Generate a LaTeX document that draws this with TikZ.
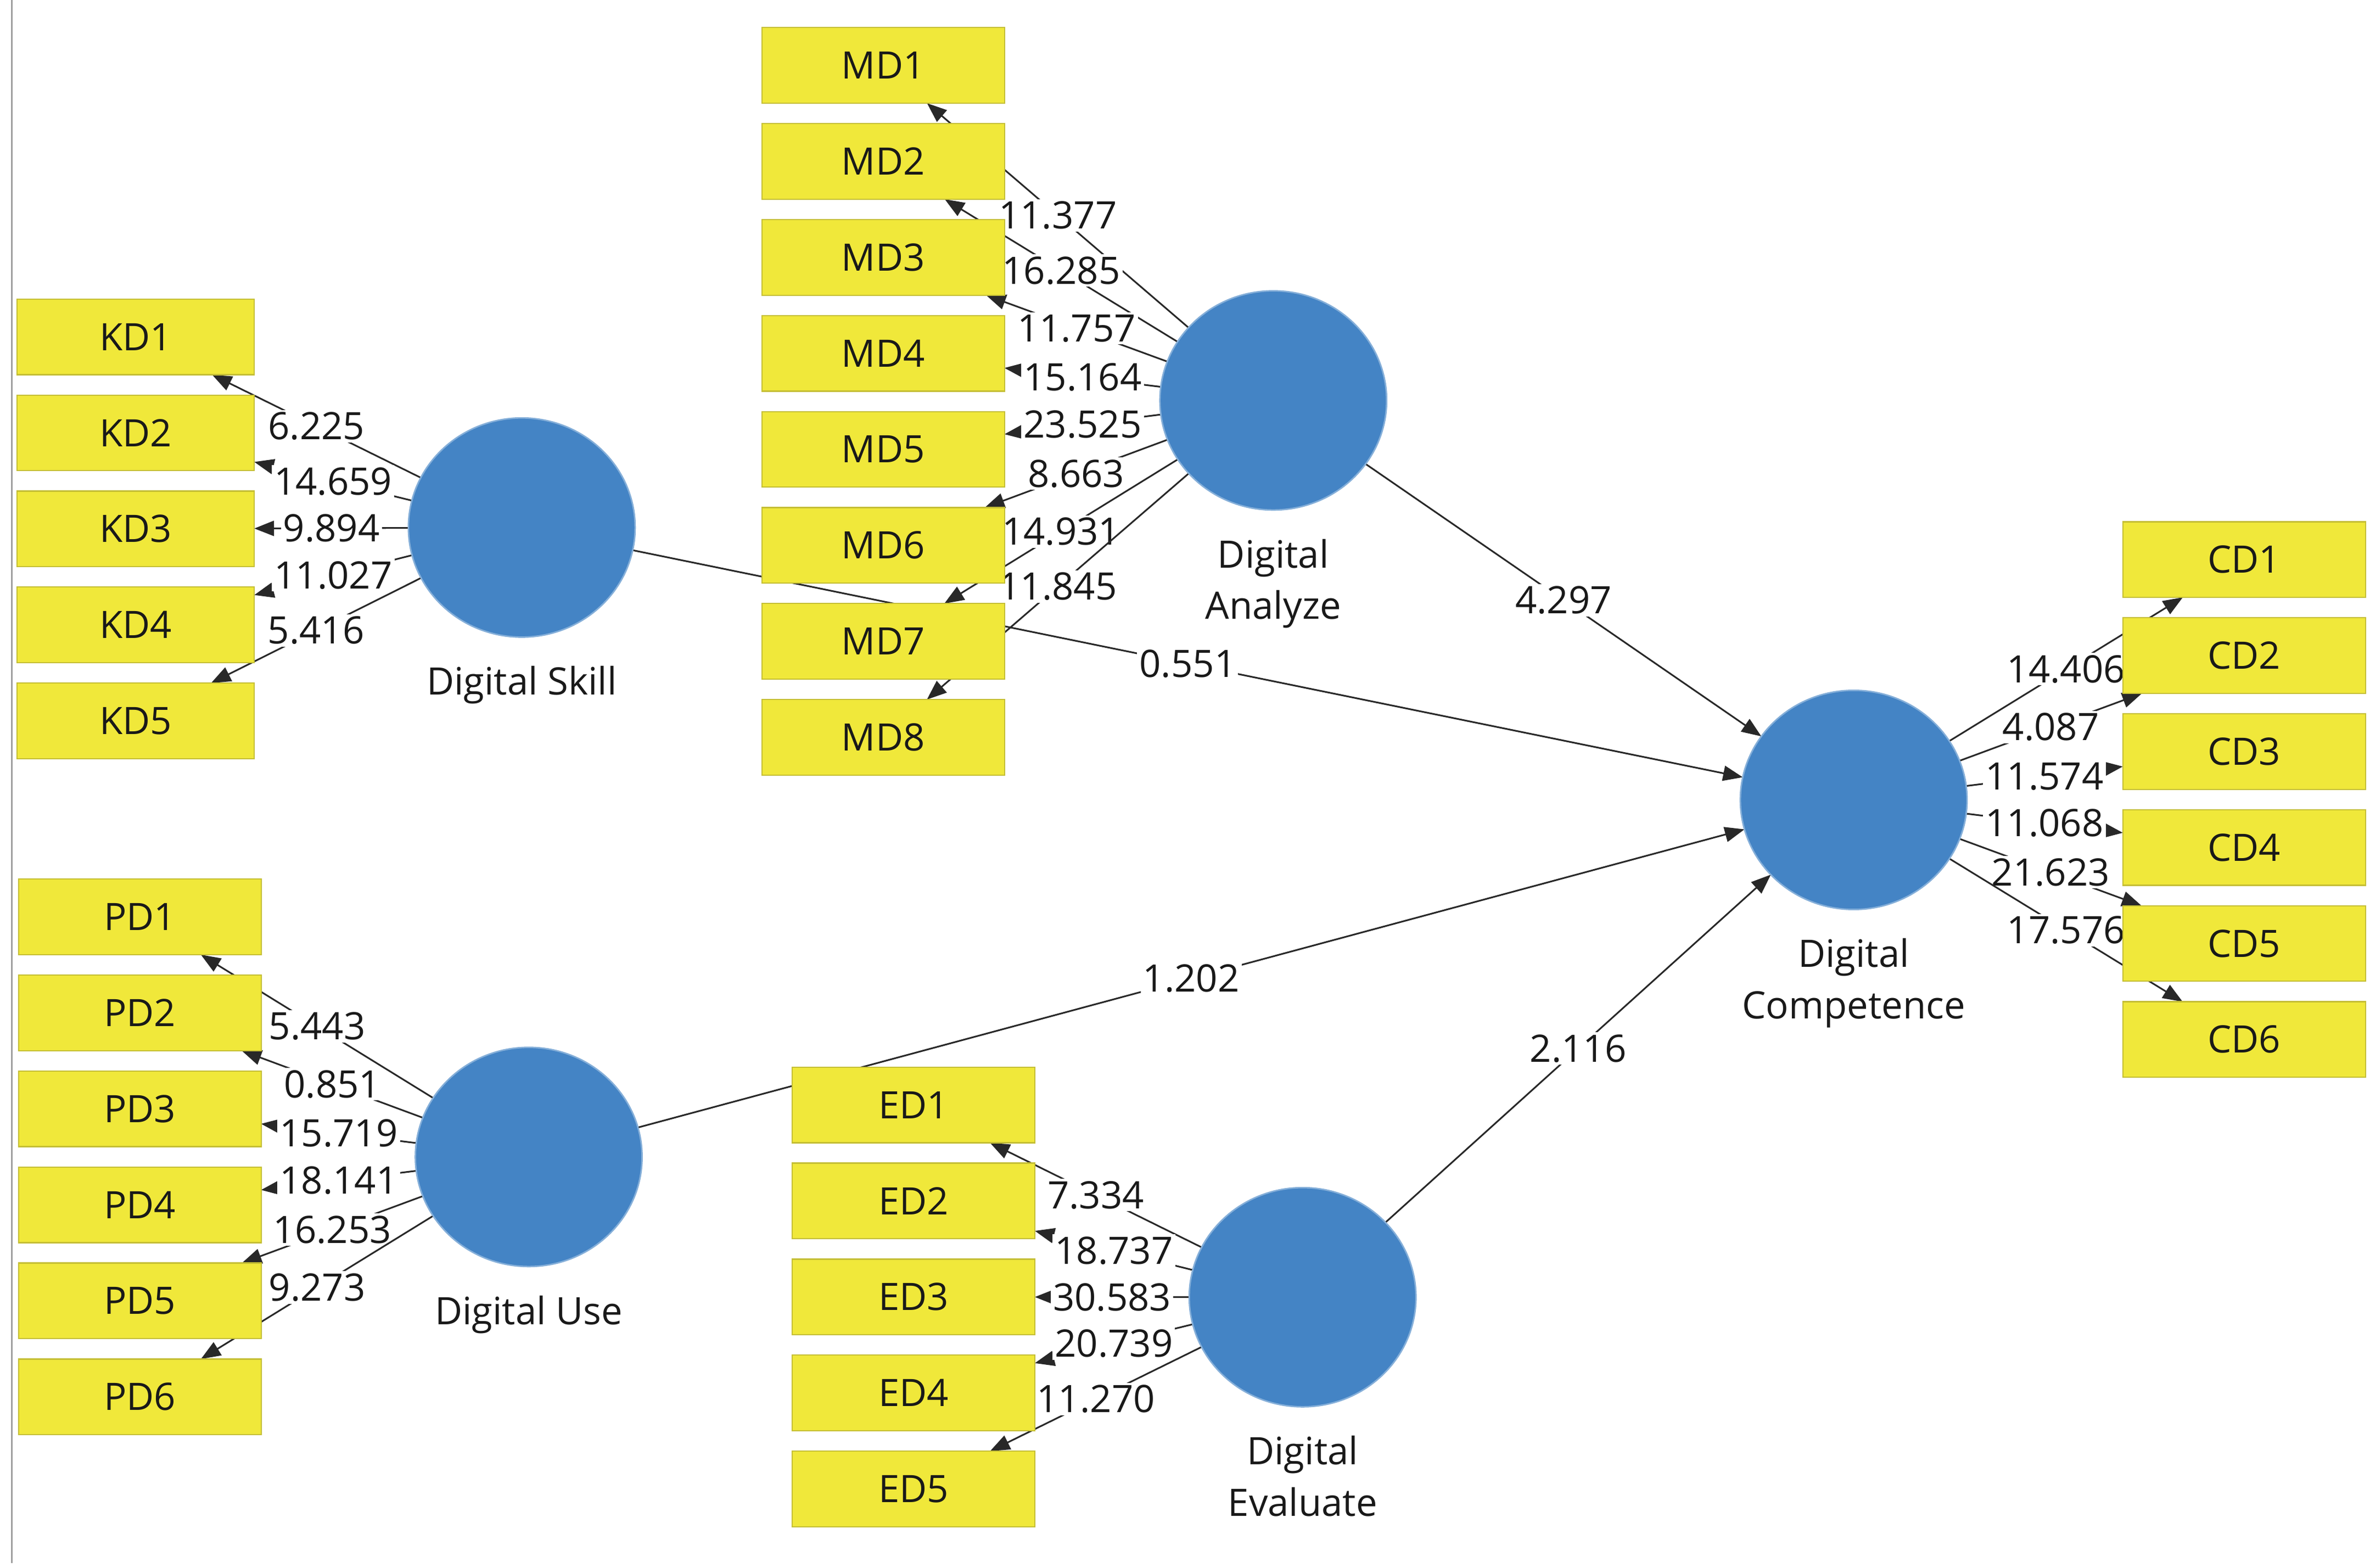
\documentclass[tikz,border=0pt]{standalone}
\usepackage{fontspec}
\setmainfont{Open Sans}
\usetikzlibrary{positioning,shapes.geometric,arrows.meta,backgrounds}
\definecolor{itemfill}{RGB}{240,232,58}
\definecolor{itemedge}{RGB}{196,190,52}
\definecolor{lvfill}{RGB}{68,132,197}
\definecolor{pathcol}{RGB}{40,40,40}
\definecolor{framecol}{RGB}{160,160,160}

\begin{document}
\begin{tikzpicture}[
		x=1pt, y=-1pt,
		node distance=13.5pt,
		item/.style={rectangle, fill=itemfill, draw=itemedge, line width=0.8pt, minimum width=160.5pt, minimum height=50pt, inner sep=0pt, outer sep=0pt, text=black!90, font=\fontsize{25}{30}\selectfont},
		kitem/.style={item, minimum width=157pt},
		latent/.style={ellipse, fill=lvfill, draw=lvfill!65!white, line width=1pt, minimum width=150pt, minimum height=145pt, inner sep=0pt, outer sep=0pt},
		lvname/.style={below=19pt, inner sep=0pt, align=center, text=black!90, font=\fontsize{25}{34}\selectfont},
		load/.style={draw=pathcol, line width=1.1pt, -{Triangle[length=13pt,width=10pt]}},
		wt/.style={midway, fill=white, inner sep=1.5pt, text=black!90, font=\fontsize{25}{30}\selectfont},
	]
		\useasboundingbox (0,0) rectangle (1568,1037.3);
		\draw[framecol, line width=1.2pt] (7.7,0) -- (7.7,1034);

		% latent variables
		\node (ds) at (345.2,349) [latent] {};
		\node (da) at (842.4,264.9) [latent] {};
		\node (dc) at (1226.4,529.2) [latent] {};
		\node (du) at (349.8,765.4) [latent] {};
		\node (de) at (861.8,858.2) [latent] {};
		\node (dslab) at (ds.south) [lvname] {Digital Skill};
		\node (dalab) at (da.south) [lvname] {Digital\\Analyze};
		\node (dclab) at (dc.south) [lvname] {Digital\\Competence};
		\node (dulab) at (du.south) [lvname] {Digital Use};
		\node (delab) at (de.south) [lvname] {Digital\\Evaluate};

		% indicators
		\node (kd1) at (89.75,222.9) [kitem] {KD1};
		\node (kd2) [kitem, below=of kd1] {KD2};
		\node (kd3) [kitem, below=of kd2] {KD3};
		\node (kd4) [kitem, below=of kd3] {KD4};
		\node (kd5) [kitem, below=of kd4] {KD5};

		\node (md1) at (584.3,43.3) [item] {MD1};
		\node (md2) [item, below=of md1] {MD2};
		\node (md3) [item, below=of md2] {MD3};
		\node (md4) [item, below=of md3] {MD4};
		\node (md5) [item, below=of md4] {MD5};
		\node (md6) [item, below=of md5] {MD6};
		\node (md7) [item, below=of md6] {MD7};
		\node (md8) [item, below=of md7] {MD8};

		\node (cd1) at (1484.7,370.2) [item] {CD1};
		\node (cd2) [item, below=of cd1] {CD2};
		\node (cd3) [item, below=of cd2] {CD3};
		\node (cd4) [item, below=of cd3] {CD4};
		\node (cd5) [item, below=of cd4] {CD5};
		\node (cd6) [item, below=of cd5] {CD6};

		\node (pd1) at (92.5,606.6) [item] {PD1};
		\node (pd2) [item, below=of pd1] {PD2};
		\node (pd3) [item, below=of pd2] {PD3};
		\node (pd4) [item, below=of pd3] {PD4};
		\node (pd5) [item, below=of pd4] {PD5};
		\node (pd6) [item, below=of pd5] {PD6};

		\node (ed1) at (604.4,731) [item] {ED1};
		\node (ed2) [item, below=of ed1] {ED2};
		\node (ed3) [item, below=of ed2] {ED3};
		\node (ed4) [item, below=of ed3] {ED4};
		\node (ed5) [item, below=of ed4] {ED5};

		% all paths go under the boxes
		\begin{scope}[on background layer]
		\draw[load] (ds) -- (dc) node[wt]{0.551};
		\draw[load] (da) -- (dc) node[wt]{4.297};
		\draw[load] (du) -- (dc) node[wt]{1.202};
		\draw[load] (de) -- (dc) node[wt]{2.116};

		\draw[load] (ds) -- (kd1) node[wt]{6.225};
		\draw[load] (ds) -- (kd2) node[wt]{14.659};
		\draw[load] (ds) -- (kd3) node[wt]{9.894};
		\draw[load] (ds) -- (kd4) node[wt]{11.027};
		\draw[load] (ds) -- (kd5) node[wt]{5.416};

		\draw[load] (da) -- (md1) node[wt]{11.377};
		\draw[load] (da) -- (md2) node[wt]{16.285};
		\draw[load] (da) -- (md3) node[wt]{11.757};
		\draw[load] (da) -- (md4) node[wt]{15.164};
		\draw[load] (da) -- (md5) node[wt]{23.525};
		\draw[load] (da) -- (md6) node[wt]{8.663};
		\draw[load] (da) -- (md7) node[wt]{14.931};
		\draw[load] (da) -- (md8) node[wt]{11.845};

		\draw[load] (dc) -- (cd1) node[wt]{14.406};
		\draw[load] (dc) -- (cd2) node[wt]{4.087};
		\draw[load] (dc) -- (cd3) node[wt]{11.574};
		\draw[load] (dc) -- (cd4) node[wt]{11.068};
		\draw[load] (dc) -- (cd5) node[wt]{21.623};
		\draw[load] (dc) -- (cd6) node[wt]{17.576};

		\draw[load] (du) -- (pd1) node[wt]{5.443};
		\draw[load] (du) -- (pd2) node[wt]{0.851};
		\draw[load] (du) -- (pd3) node[wt]{15.719};
		\draw[load] (du) -- (pd4) node[wt]{18.141};
		\draw[load] (du) -- (pd5) node[wt]{16.253};
		\draw[load] (du) -- (pd6) node[wt]{9.273};

		\draw[load] (de) -- (ed1) node[wt]{7.334};
		\draw[load] (de) -- (ed2) node[wt]{18.737};
		\draw[load] (de) -- (ed3) node[wt]{30.583};
		\draw[load] (de) -- (ed4) node[wt]{20.739};
		\draw[load] (de) -- (ed5) node[wt]{11.270};
		\end{scope}
	\end{tikzpicture}
\end{document}
